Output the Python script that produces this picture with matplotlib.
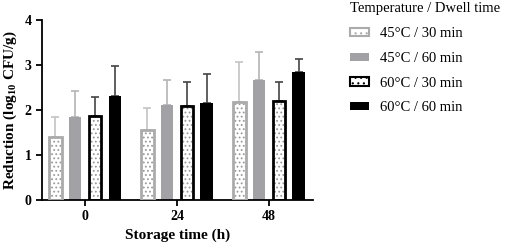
import matplotlib
matplotlib.use("Agg")
import matplotlib.pyplot as plt
import numpy as np
from matplotlib.patches import Patch

plt.rcParams['font.family'] = ['Liberation Serif', 'DejaVu Serif']
plt.rcParams['mathtext.fontset'] = 'custom'
plt.rcParams['mathtext.bf'] = 'Liberation Serif:bold'
plt.rcParams['mathtext.rm'] = 'Liberation Serif'
plt.rcParams['hatch.linewidth'] = 0.8

groups = ['0', '24', '48']
series = ['45°C / 30 min', '45°C / 60 min', '60°C / 30 min', '60°C / 60 min']
means = [
    [1.40, 1.55, 2.17],
    [1.85, 2.12, 2.67],
    [1.86, 2.08, 2.19],
    [2.31, 2.16, 2.84],
]
upper = [
    [1.84, 2.05, 3.07],
    [2.42, 2.67, 3.30],
    [2.29, 2.62, 2.62],
    [2.97, 2.81, 3.13],
]

edge_colors = ['#ababab', '#a2a2a6', '#000000', '#000000']
fill_colors = ['white', '#a2a2a6', 'white', '#000000']
hatches = ['....', None, '....', None]
err_colors = ['#c4c4c4', '#b4b4b4', '#444444', '#444444']

fig = plt.figure(figsize=(5.05, 2.5), dpi=100)
ax = fig.add_axes([0.083, 0.2, 0.537, 0.72])

x = np.arange(len(groups))
width = 0.135
step = 0.215
for i, name in enumerate(series):
    pos = x + (i - 1.5) * step
    m = np.array(means[i])
    err = np.array(upper[i]) - m
    ax.errorbar(pos, m, yerr=[np.zeros_like(err), err], fmt='none',
                ecolor=err_colors[i], elinewidth=1.2, capsize=3, capthick=1.2, zorder=1)
    if hatches[i]:
        ax.bar(pos, m, width, color='white', edgecolor='#9a9a9a', linewidth=0,
               hatch=hatches[i], zorder=2)
        ax.bar(pos, m, width, fill=False, edgecolor=edge_colors[i], linewidth=2.0, zorder=3)
    else:
        ax.bar(pos, m, width, color=fill_colors[i], edgecolor=edge_colors[i],
               linewidth=0, zorder=2)

ax.set_xlim(-0.47, 2.48)
ax.set_ylim(0, 4)
ax.set_yticks([0, 1, 2, 3, 4])
ax.set_xticks(x)
ax.set_xticklabels(groups)
for s in ['top', 'right']:
    ax.spines[s].set_visible(False)
for s in ['left', 'bottom']:
    ax.spines[s].set_linewidth(1.3)
ax.tick_params(width=1.3, length=4, labelsize=10)
for lab in ax.get_xticklabels() + ax.get_yticklabels():
    lab.set_fontweight('bold')
ax.set_xlabel('Storage time (h)', fontsize=11, fontweight='bold')
ax.set_ylabel(r'Reduction (log$_{\mathbf{10}}$ CFU/g)', fontsize=11, fontweight='bold')

handles = []
for i, name in enumerate(series):
    if hatches[i]:
        handles.append(Patch(facecolor='white', edgecolor=edge_colors[i], linewidth=1.5,
                             hatch='...'))
    else:
        handles.append(Patch(facecolor=fill_colors[i], edgecolor=edge_colors[i], linewidth=0))
leg = fig.legend(handles, series, loc='upper left', bbox_to_anchor=(0.668, 1.045),
                 frameon=False, fontsize=10.5, title='Temperature / Dwell time',
                 title_fontsize=10.5, handlelength=1.3, handleheight=0.5,
                 labelspacing=0.8, handletextpad=0.75)
leg._legend_box.align = 'left'
leg._legend_box.sep = 9

fig.savefig('out.png', dpi=100)
